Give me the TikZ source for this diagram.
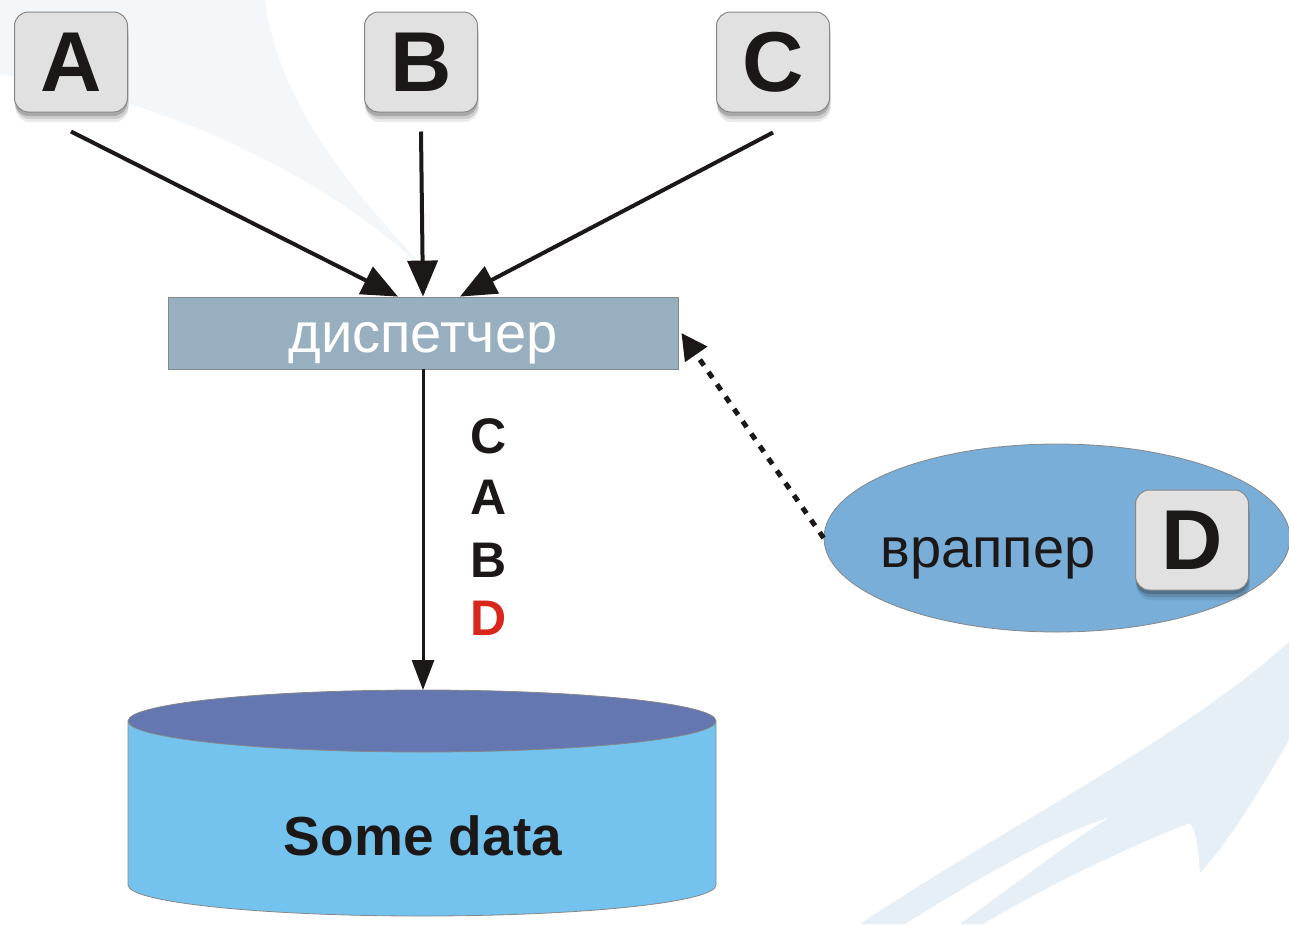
\documentclass[tikz,border=0pt]{standalone}
\usepackage{fontspec}
\setmainfont{Liberation Sans}
\usetikzlibrary{arrows.meta,shapes.geometric,shadows}

\definecolor{keygray}{RGB}{225,225,225}
\definecolor{keyedge}{RGB}{135,135,135}
\definecolor{ink}{RGB}{28,24,24}
\definecolor{dispblue}{RGB}{152,175,191}
\definecolor{wrapblue}{RGB}{121,174,216}
\definecolor{dbtopblue}{RGB}{100,119,177}
\definecolor{dbbodyblue}{RGB}{116,195,238}
\definecolor{redd}{RGB}{217,38,28}
\definecolor{bgpale}{RGB}{243,247,250}
\definecolor{swoosh}{RGB}{230,238,246}

\begin{document}
\begin{tikzpicture}[x=1pt,y=-1pt,
    keybox/.style={draw=keyedge, line width=1pt, fill=keygray, rounded corners=14pt,
        minimum width=113pt, minimum height=100pt, inner sep=0pt, text=ink,
        font=\fontsize{85}{85}\selectfont\bfseries,
        drop shadow={shadow xshift=1pt, shadow yshift=-10pt, opacity=0.08, fill=black},
        drop shadow={shadow xshift=1pt, shadow yshift=-7pt, opacity=0.12, fill=black},
        drop shadow={shadow xshift=0pt, shadow yshift=-4pt, opacity=0.18, fill=black}},
    feed/.style={ink, line width=4pt, -{Triangle[length=36pt,width=30pt]}},
    flow/.style={ink, line width=3pt, -{Triangle[length=30pt,width=22pt]}},
    back/.style={ink, line width=5pt, dash pattern=on 7pt off 8pt, -{Triangle[length=26pt,width=26pt]}},
    order/.style={text=ink, font=\fontsize{50}{50}\selectfont\bfseries, inner sep=0pt},
    thinedge/.style={draw=keyedge, line width=0.8pt}]
    \useasboundingbox (0,0) rectangle (1289,924);
    \fill[bgpale] (0,0) -- (265,0) .. controls (280,120) and (380,220) .. (445,290)
        .. controls (330,170) and (150,95) .. (0,75) -- cycle;
    \fill[swoosh] (860,924) .. controls (1000,830) and (1180,740) .. (1289,642) -- (1289,740)
        .. controls (1260,790) and (1230,840) .. (1200,873) .. controls (1198,840) and (1195,830) .. (1190,823)
        .. controls (1120,850) and (1040,890) .. (983,924) -- (960,924) .. controls (1020,880) and (1080,835) .. (1110,817)
        .. controls (1040,840) and (960,890) .. (905,924) -- cycle;
    \node[keybox] (A) at (71,62) {A};
    \node[keybox] (B) at (421,62) {B};
    \node[keybox] (C) at (773,62) {C};
    \node[thinedge, fill=dispblue, minimum width=510pt, minimum height=72pt, text=white, text depth=0pt, text height=38pt,
        font=\fontsize{56}{56}\selectfont] (disp) at (423,333) {диспетчер};
    \node[thinedge, fill=wrapblue, ellipse, minimum width=466pt, minimum height=188pt] (wrap) at (1057,538) {};
    \node[anchor=base, text=ink, inner sep=0pt, font=\fontsize{56}{56}\selectfont] (wraplbl) at (988,567) {враппер};
    \node[keybox] (D) at (1192,540) {D};
    \draw[thinedge, fill=dbbodyblue] (128,721) -- (128,885) arc[start angle=180, end angle=360, x radius=294pt, y radius=31pt] -- (716,721) -- cycle;
    \draw[thinedge, fill=dbtopblue] (422,721) ellipse [x radius=294pt, y radius=31pt];
    \coordinate (dbtop) at (423,690);
    \node[text=ink, inner sep=0pt, font=\fontsize{55}{55}\selectfont\bfseries] (db) at (423,836) {Some data};
    \node[order] (qc) at (489,436) {C};
    \node[order] (qa) at (489,497) {A};
    \node[order] (qb) at (489,560) {B};
    \node[order, text=redd] (qd) at (489,618) {D};
    \draw[feed] ([yshift=-19pt]A.south) -- ([xshift=-25pt]disp.north);
    \draw[feed] ([yshift=-19pt]B.south) -- (disp.north);
    \draw[feed] ([yshift=-20pt]C.south) -- ([xshift=37pt]disp.north);
    \draw[flow] (disp.south) -- (dbtop);
    \draw[back] (wrap.west) -- ([xshift=3pt]disp.east);
\end{tikzpicture}
\end{document}
